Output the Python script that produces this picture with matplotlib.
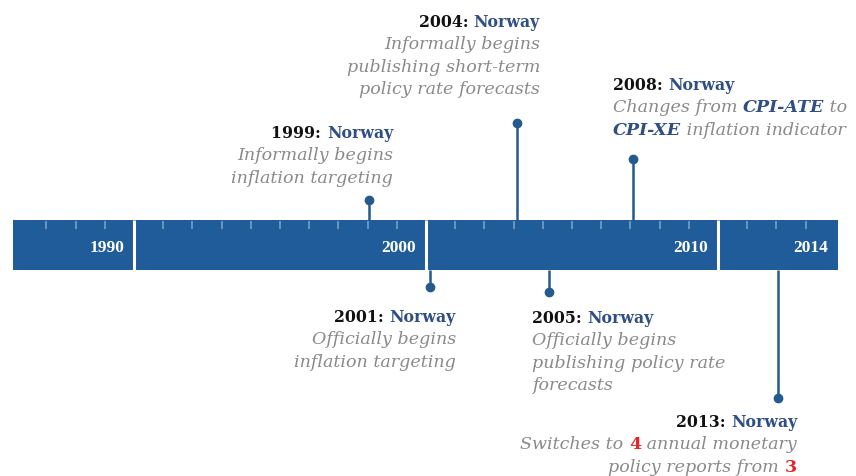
import matplotlib
matplotlib.use("Agg")
import matplotlib.pyplot as plt
from matplotlib.patches import Rectangle
from matplotlib.transforms import IdentityTransform
from matplotlib.font_manager import FontProperties

# ---------------- data ----------------
bar_start = 1986.85
bar_end = 2015.1
segment_breaks = [1991, 2001, 2011]
label_positions = [1991, 2001, 2011, 2015.1]
tick_labels = ["1990", "2000", "2010", "2014"]
minor_tick_years = [1988, 1989, 1990, 1992, 1993, 1994, 1995, 1996, 1997, 1998,
                    1999, 2000, 2002, 2003, 2004, 2005, 2006, 2007, 2008, 2009,
                    2010, 2012, 2013, 2014]

event_years = [1999, 2001, 2004, 2005, 2008, 2013]
event_positions = [1999.05, 2001.15, 2004.1, 2005.2, 2008.1, 2013.05]
event_country = ["Norway", "Norway", "Norway", "Norway", "Norway", "Norway"]
event_side = ["up", "down", "up", "down", "up", "down"]
event_lines = [
    [[("Informally begins", "desc")], [("inflation targeting", "desc")]],
    [[("Officially begins", "desc")], [("inflation targeting", "desc")]],
    [[("Informally begins", "desc")], [("publishing short-term", "desc")],
     [("policy rate forecasts", "desc")]],
    [[("Officially begins", "desc")], [("publishing policy rate", "desc")],
     [("forecasts", "desc")]],
    [[("Changes from ", "desc"), ("CPI-ATE", "hl"), (" to", "desc")],
     [("CPI-XE", "hl"), (" inflation indicator", "desc")]],
    [[("Switches to ", "desc"), ("4", "red"), (" annual monetary", "desc")],
     [("policy reports from ", "desc"), ("3", "red")]],
]

# ---------------- layout / style ----------------
W, H = 856, 477
BAR_TOP, BAR_BOT = 221, 271
stem_end = [201, 288, 124, 293, 160, 399]          # pixel rows of the dots
text_anchor = [(393, "right", 138), (456, "right", 322), (540, "right", 27),
               (532, "left", 323), (613, "left", 90), (797, "right", 427)]
LINE_SP = 22.5

BAR_COLOR = "#1f5c99"
TICK_COLOR = "#7fa3cc"
STEM_COLOR = "#245a8e"
NAVY = "#2f4f84"
GRAY = "#8a8a8a"
RED = "#e3262b"

serif = ["DejaVu Serif"]
TS, DS = 11.3, 12.6
styles = {
    "year": dict(fp=FontProperties(family=serif, weight="bold", size=TS), color="#111111"),
    "country": dict(fp=FontProperties(family=serif, weight="bold", size=TS), color=NAVY),
    "desc": dict(fp=FontProperties(family=serif, style="italic", size=DS), color=GRAY),
    "hl": dict(fp=FontProperties(family=serif, style="italic", weight="bold", size=DS), color=NAVY),
    "red": dict(fp=FontProperties(family=serif, weight="bold", size=DS), color=RED),
}

fig = plt.figure(figsize=(W / 100, H / 100), dpi=100)
ax = fig.add_axes([0, 0, 1, 1])
px_per_year = 29.2
ax.set_xlim(2001 - 426 / px_per_year, 2001 + (W - 426) / px_per_year)
ax.set_ylim(H, 0)
ax.axis("off")

# bar
ax.add_patch(Rectangle((bar_start, BAR_TOP), bar_end - bar_start, BAR_BOT - BAR_TOP,
                       facecolor=BAR_COLOR, edgecolor="none", zorder=1))
ax.vlines(minor_tick_years, BAR_TOP + 1, BAR_TOP + 9, color=TICK_COLOR, lw=1.1, zorder=2)
ax.vlines(segment_breaks, BAR_TOP, BAR_BOT, color="white", lw=2.2, zorder=3)
for pos, lab in zip(label_positions, tick_labels):
    ax.annotate(lab, xy=(pos, 248), xytext=(-10, 0), textcoords="offset pixels",
                ha="right", va="center", color="white", fontsize=12.5,
                fontfamily="Liberation Serif", fontweight="bold", zorder=4)

# stems
for x, side, end in zip(event_positions, event_side, stem_end):
    start = BAR_TOP if side == "up" else BAR_BOT
    ax.plot([x, x], [start, end], color=STEM_COLOR, lw=1.8, solid_capstyle="butt", zorder=5)
    ax.plot([x], [end], "o", color=STEM_COLOR, ms=6, zorder=6)

# text
renderer = fig.canvas.get_renderer()


def adv(s, fp):
    w1 = renderer.get_text_width_height_descent("|" + s + "|", fp, False)[0]
    w0 = renderer.get_text_width_height_descent("||", fp, False)[0]
    return w1 - w0


def draw_line(x, y_img, parts, ha):
    widths = [adv(s, styles[st]["fp"]) for s, st in parts]
    cur = x - sum(widths) if ha == "right" else x
    for (s, st), w in zip(parts, widths):
        fig.text(cur, H - y_img, s, transform=IdentityTransform(), ha="left",
                 va="baseline", fontproperties=styles[st]["fp"], color=styles[st]["color"])
        cur += w


for yr, country, lines, (ax_x, ha, base) in zip(event_years, event_country, event_lines, text_anchor):
    draw_line(ax_x, base, [(f"{yr}: ", "year"), (country, "country")], ha)
    for i, ln in enumerate(lines):
        draw_line(ax_x, base + LINE_SP * (i + 1), ln, ha)

fig.savefig("out.png", dpi=100)
